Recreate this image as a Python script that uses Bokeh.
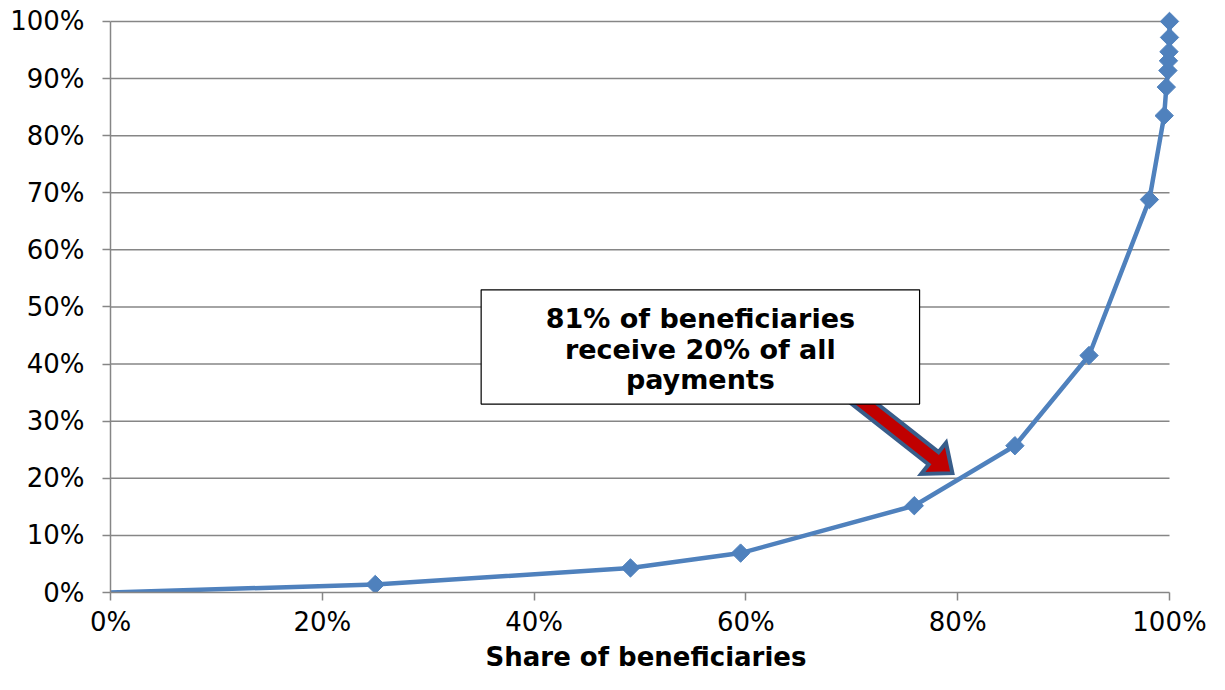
import numpy as np
from bokeh.plotting import figure
from bokeh.models import Range1d, FixedTicker, CustomJSTickFormatter, ColumnDataSource
from bokeh.core.properties import value
from bokeh.embed import file_html
from bokeh.resources import INLINE

# ---- data ----
share_beneficiaries = [0.0, 25.0, 49.1, 59.5, 75.9, 85.4, 92.4, 98.1, 99.5, 99.7, 99.85, 99.9, 99.95, 100.0, 100.0]
share_payments      = [0.0, 1.4, 4.3, 6.9, 15.2, 25.7, 41.5, 68.8, 83.5, 88.5, 91.4, 93.1, 94.7, 97.2, 100.0]
x_ticks = [0, 20, 40, 60, 80, 100]
y_ticks = [0, 10, 20, 30, 40, 50, 60, 70, 80, 90, 100]
x_title = "Share of beneficiaries"
note_lines = ["81% of beneficiaries", "receive 20% of all", "payments"]

# annotation placement (data units)
box_left, box_right, box_bottom, box_top = 35.0, 76.4, 33.0, 53.0
note_x = 55.7
note_y = [48.0, 42.5, 37.3]
arrow_tail = (70.4, 34.2)
arrow_tip = (79.5, 20.9)

W, H = 1209, 674
ML, MR, MT, MB = 110, 28, 9, 78
fw, fh = W - ML - MR, H - MT - MB
pad = 12  # px of room beyond 100% so the end markers are not clipped
x_end = 100.0 * fw / (fw - pad)
y_end = 100.0 * fh / (fh - pad)

p = figure(width=W, height=H, output_backend="svg", toolbar_location=None,
           x_range=Range1d(0, x_end), y_range=Range1d(0, y_end),
           min_border_left=ML, min_border_right=MR, min_border_top=MT, min_border_bottom=MB)
p.outline_line_color = None
p.background_fill_color = "white"

FONT = "DejaVu Sans"
GRID = "#868686"
fmt = CustomJSTickFormatter(code="return tick.toFixed(0) + '%';")
for ax in (p.xaxis[0], p.yaxis[0]):
    ax.formatter = fmt
    ax.bounds = (0, 100)
    ax.axis_line_color = GRID
    ax.axis_line_width = 1.5
    ax.major_tick_line_color = GRID
    ax.major_tick_line_width = 1.5
    ax.major_tick_in = 0
    ax.major_tick_out = 8
    ax.minor_tick_line_color = None
    ax.major_label_text_font = FONT
    ax.major_label_text_font_size = "26px"
    ax.major_label_text_color = "black"
p.xaxis.ticker = FixedTicker(ticks=x_ticks)
p.yaxis.ticker = FixedTicker(ticks=y_ticks)
p.yaxis.major_label_standoff = 18
p.xaxis.major_label_standoff = 6
p.xaxis.axis_label = x_title
p.xaxis.axis_label_text_font = FONT
p.xaxis.axis_label_text_font_size = "26px"
p.xaxis.axis_label_text_font_style = "bold"
p.xaxis.axis_label_text_color = "black"
p.xaxis.axis_label_standoff = 2

p.xgrid.grid_line_color = None
p.ygrid.grid_line_color = None
# horizontal gridlines from 0% to 100% only
p.segment(x0=[0] * len(y_ticks[1:]), x1=[100] * len(y_ticks[1:]), y0=y_ticks[1:], y1=y_ticks[1:],
          line_color=GRID, line_width=1.5)

src = ColumnDataSource(dict(x=share_beneficiaries, y=share_payments))
p.line("x", "y", source=src, line_color="#4F81BD", line_width=4.5)
mk = ColumnDataSource(dict(x=share_beneficiaries[1:], y=share_payments[1:]))
p.scatter("x", "y", source=mk, marker="square", angle=np.pi / 4, size=13,
          fill_color="#4F81BD", line_color="#4F81BD")

# block arrow built in pixel space, converted to data
sx, sy = fw / x_end, fh / y_end
tx, ty = arrow_tail[0] * sx, -arrow_tail[1] * sy
hx, hy = arrow_tip[0] * sx, -arrow_tip[1] * sy
d = np.array([hx - tx, hy - ty]); L = np.hypot(*d); u = d / L; n = np.array([-u[1], u[0]])
sw, hw, hl = 8.0, 20.0, 24.0
t = np.array([tx, ty]); h = np.array([hx, hy]); b = h - u * hl
pts = [t + n * sw, b + n * sw, b + n * hw, h, b - n * hw, b - n * sw, t - n * sw]
ax_ = [q[0] / sx for q in pts]; ay_ = [-q[1] / sy for q in pts]
p.patch(ax_, ay_, fill_color="#C00000", line_color="#385D8A", line_width=4, line_join="miter")

p.quad(left=[box_left], right=[box_right], bottom=[box_bottom], top=[box_top],
       fill_color="white", line_color="black", line_width=1.2)
p.text(x=[note_x] * 3, y=note_y, text=note_lines, text_align="center", text_baseline="middle",
       text_font=value(FONT), text_font_size="27px", text_font_style="bold", text_color="black")

open("out.html", "w").write(file_html(p, INLINE))
